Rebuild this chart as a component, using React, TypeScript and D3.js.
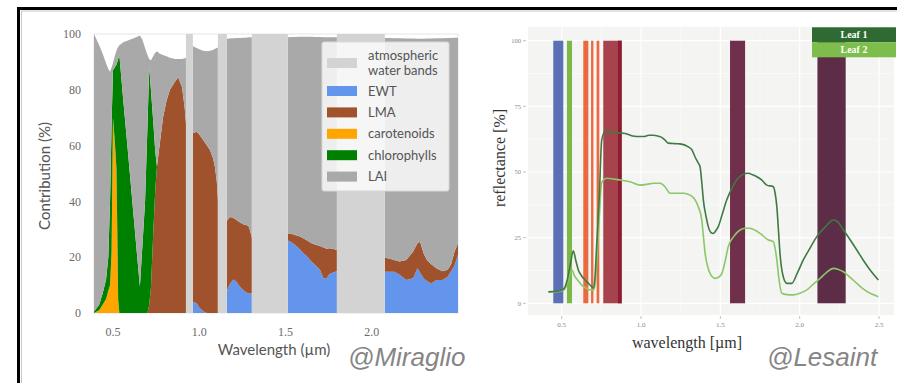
import React from 'react';
import * as d3 from 'd3';

// ---------- left panel: contribution per wavelength (Miraglio) ----------
const mirWl = [
  0.39, 0.42, 0.44, 0.46, 0.473, 0.483, 0.492, 0.5, 0.51, 0.52, 0.525, 0.53, 0.537, 0.56, 0.58, 0.6, 0.62, 0.64,
  0.656, 0.67, 0.686, 0.7, 0.71, 0.72, 0.733, 0.745, 0.755, 0.77, 0.79, 0.81, 0.83, 0.86, 0.878, 0.9, 0.915, 0.923,
  0.963, 0.985, 1.0, 1.023, 1.045, 1.062, 1.08, 1.091, 1.102, 1.108,
  1.16, 1.175, 1.19, 1.2, 1.216, 1.235, 1.255, 1.27, 1.285, 1.295, 1.305,
  1.514, 1.53, 1.555, 1.58, 1.603, 1.63, 1.651, 1.675, 1.7, 1.72, 1.738, 1.755, 1.775, 1.798,
  2.076, 2.1, 2.13, 2.16, 2.2, 2.24, 2.265, 2.28, 2.3, 2.32, 2.345, 2.375, 2.41, 2.44, 2.46, 2.48, 2.5,
];
const mirEwt = [
  0, 0, 0, 0, 0, 0, 0, 0, 0, 0, 0, 0, 0, 0, 0, 0, 0, 0,
  0, 0, 0, 0, 0, 0, 0, 0, 0, 0, 0, 0, 0, 0, 0, 0, 0, 0,
  4, 3.5, 2, 0.6, 0, 0, 0, 0, 0, 0,
  8, 10, 11.5, 12, 11.2, 9.5, 8.2, 7.5, 7, 7, 7,
  26, 25.5, 24.5, 23, 21.5, 20, 18.5, 17, 15.5, 12.5, 12.5, 14, 14.5, 15,
  14.8, 14.8, 14.8, 13.8, 11.8, 12.5, 16, 14.5, 12.5, 11.5, 10.6, 11.8, 11.8, 13, 15, 17, 21,
];
const mirLma = [
  0, 0, 0, 0, 0, 0, 0, 0, 0, 0, 0, 0, 0, 0, 0, 0, 0, 0,
  0, 0, 0, 0, 3, 9, 28, 44, 52.5, 60, 70, 76, 80, 83, 84.5, 81, 74, 68,
  60.4, 61.5, 62, 61.4, 60, 58.4, 55.5, 52.4, 47, 40.5,
  25, 24.3, 22.8, 22, 22.1, 23, 23.6, 24, 24.3, 22.5, 20,
  2.5, 3, 3.5, 4.5, 5.3, 5.8, 6.5, 7.5, 8.5, 11, 10.5, 9.2, 8.5, 7.5,
  5, 4.7, 4.2, 4.7, 7.2, 9.5, 9, 11, 9, 7.5, 6.9, 4.2, 3.2, 2.5, 2.5, 5, 4,
];
const mirCar = [
  0, 1, 3, 5, 8, 10, 22, 70, 62, 52, 30, 5, 0, 0, 0, 0, 0, 0,
  0, 0, 0, 0, 0, 0, 0, 0, 0, 0, 0, 0, 0, 0, 0, 0, 0, 0,
  0, 0, 0, 0, 0, 0, 0, 0, 0, 0,
  0, 0, 0, 0, 0, 0, 0, 0, 0, 0, 0,
  0, 0, 0, 0, 0, 0, 0, 0, 0, 0, 0, 0, 0, 0,
  0, 0, 0, 0, 0, 0, 0, 0, 0, 0, 0, 0, 0, 0, 0, 0, 0,
];
const mirChl = [
  0.5, 2, 4, 7, 12, 30, 46, 17, 26, 37, 60, 86, 92.5, 76, 62.5, 48.5, 34.5, 20.5,
  9.5, 23.5, 40, 67, 85, 71, 41, 14, 0, 0, 0, 0, 0, 0, 0, 0, 0, 0,
  0, 0, 0, 0, 0, 0, 0, 0, 0, 0,
  0, 0, 0, 0, 0, 0, 0, 0, 0, 0, 0,
  0, 0, 0, 0, 0, 0, 0, 0, 0, 0, 0, 0, 0, 0,
  0, 0, 0, 0, 0, 0, 0, 0, 0, 0, 0, 0, 0, 0, 0, 0, 0,
];
// upper edge of the LAI layer (sum of all contributions)
const mirTop = [
  100, 96, 93, 89.5, 87.5, 86.5, 88, 89.5, 92, 94, 94.7, 95.3, 96, 97, 97.5, 98, 98.5, 99,
  99.5, 98, 95, 92.5, 91, 90.5, 92, 93.3, 93.8, 93, 92.5, 92, 91.5, 91, 91, 91, 91.3, 91.5,
  95.6, 95, 94.5, 94, 93.8, 94, 94.3, 94.7, 95, 95.2,
  98.3, 98.4, 98.5, 98.5, 98.6, 98.6, 98.7, 98.7, 98.8, 98.8, 98.8,
  98.8, 98.9, 98.9, 99, 99, 99, 99, 98.9, 98.9, 98.8, 98.8, 98.8, 98.8, 98.8,
  98.6, 98.6, 98.5, 98.5, 98.4, 98.4, 98.3, 98.3, 98.3, 98.4, 98.4, 98.5, 98.5, 98.6, 98.6, 98.7, 98.7,
];
const waterBands: [number, number][] = [[0.923, 0.963], [1.108, 1.16], [1.305, 1.514], [1.798, 2.076]];
const mirXTicks = [0.5, 1.0, 1.5, 2.0];
const mirYTicks = [0, 20, 40, 60, 80, 100];
const mirKeys = ['ewt', 'lma', 'car', 'chl', 'lai'];
const mirColors: Record<string, string> = {
  ewt: '#6495ed', lma: '#a0522d', car: '#ffa500', chl: '#008000', lai: '#a9a9a9', water: '#d3d3d3',
};
const mirLegend = [
  { key: 'water', label: ['atmospheric', 'water bands'] },
  { key: 'ewt', label: ['EWT'] },
  { key: 'lma', label: ['LMA'] },
  { key: 'car', label: ['carotenoids'] },
  { key: 'chl', label: ['chlorophylls'] },
  { key: 'lai', label: ['LAI'] },
];

// ---------- right panel: leaf reflectance (Lesaint) ----------
const leaf1Wl = [
  0.416, 0.47, 0.51, 0.535, 0.555, 0.573, 0.59, 0.605, 0.625, 0.647, 0.67, 0.689, 0.7, 0.71, 0.72, 0.737, 0.752, 0.773,
  0.81, 0.847, 0.88, 0.91, 0.94, 0.973, 1.015, 1.05, 1.078, 1.11, 1.13, 1.15, 1.172, 1.21, 1.246, 1.298, 1.32, 1.34,
  1.36, 1.372, 1.383, 1.393, 1.41, 1.424, 1.44, 1.455, 1.47, 1.487, 1.51, 1.54, 1.57, 1.603, 1.64, 1.677, 1.7, 1.73,
  1.76, 1.793, 1.834, 1.845, 1.856, 1.866, 1.876, 1.895, 1.919, 1.95, 1.985, 2.023, 2.065, 2.108, 2.16, 2.213, 2.24,
  2.276, 2.32, 2.36, 2.4, 2.444, 2.496,
];
const leaf1 = [
  4.4, 4.6, 5.3, 8.9, 15, 20, 16, 12.7, 10.5, 8.9, 7.5, 6.3, 5.8, 10, 21.5, 40.6, 62, 65.4,
  65.3, 65, 64.8, 64.5, 63.8, 63.5, 63.5, 64, 64, 63.6, 63.2, 62.2, 61, 60.8, 60.7, 59.6, 58.5, 55.8,
  53.5, 52, 46, 39.3, 33, 29.2, 27, 26.6, 27.5, 29.2, 33.5, 39.3, 43.5, 47, 49, 49.5, 49, 48.2,
  47, 45, 44.4, 42, 36.8, 28, 19, 10.5, 7.6, 7.6, 11.5, 16.5, 21, 25.4, 29, 31.7, 31,
  27.9, 24, 20.3, 16.5, 12.7, 8.9,
];
const leaf2Wl = [
  0.416, 0.47, 0.51, 0.535, 0.555, 0.565, 0.58, 0.605, 0.625, 0.647, 0.67, 0.689, 0.7, 0.71, 0.72, 0.737, 0.752, 0.784,
  0.83, 0.868, 0.93, 0.994, 1.036, 1.08, 1.12, 1.151, 1.183, 1.225, 1.267, 1.309, 1.34, 1.361, 1.383, 1.394, 1.404,
  1.42, 1.435, 1.467, 1.49, 1.51, 1.53, 1.55, 1.585, 1.624, 1.655, 1.687, 1.72, 1.75, 1.803, 1.834, 1.845, 1.856,
  1.87, 1.887, 1.92, 1.96, 2.0, 2.045, 2.09, 2.129, 2.17, 2.213, 2.24, 2.276, 2.32, 2.36, 2.4, 2.444, 2.496,
];
const leaf2 = [
  4.2, 4.4, 5, 7.5, 11.5, 12.7, 10.5, 8.5, 7, 6, 5.3, 5, 5, 7, 14, 33, 46, 47.6,
  47.3, 47, 46.3, 45, 45.3, 45.7, 45.7, 44.4, 41.9, 41.9, 41.9, 41.2, 39.5, 36.8, 31.7, 25, 19,
  14, 11.4, 9.5, 10, 11.4, 16, 21.6, 25.5, 27.9, 28.6, 28.6, 27.8, 26.6, 24.1, 23.5, 21, 16.5,
  9, 3.8, 3.3, 3.2, 3.8, 5.1, 7.5, 9.5, 11.8, 13.3, 13, 12, 9.8, 7.6, 5.5, 3.8, 2.5,
];
// sensor bands shown as vertical bars (wavelength ranges, µm)
const bandLo = [0.447, 0.533, 0.636, 0.685, 0.72, 0.762, 0.855, 1.561, 2.112];
const bandHi = [0.51, 0.565, 0.668, 0.7, 0.737, 0.878, 0.878, 1.656, 2.29];
const bandColors = ['#5b6fb5', '#7bb84a', '#ea6940', '#ea6940', '#ea6940', '#a6434d', '#8c1c30', '#70304b', '#5d2d48'];
const lesXTicks = [0.5, 1.0, 1.5, 2.0, 2.5];
const lesYTicks = [0, 25, 50, 75, 100];
const lesLegend = ['Leaf 1', 'Leaf 2'];
const leafColors = ['#3f7a42', '#8ac867'];
const leafBoxColors = ['#2f6a33', '#7dbd4c'];

function MiraglioPanel() {
  const x = d3.scaleLinear().domain([0.39, 2.5]).range([94, 458]);
  const y = d3.scaleLinear().domain([0, 100]).range([313, 34]);

  const rows = mirWl.map((wl, i) => {
    const ewt = mirEwt[i], lma = mirLma[i], car = mirCar[i], chl = mirChl[i];
    return {
      wl, ewt, lma, car, chl,
      lai: Math.max(0, mirTop[i] - ewt - lma - car - chl),
      seg: waterBands.filter(b => b[1] <= wl + 1e-9).length,
    };
  });
  const series = d3.stack<any>().keys(mirKeys)(rows);
  const area = d3.area<any>()
    .x(d => x(d.data.wl))
    .y0(d => y(d[0]))
    .y1(d => y(d[1]));
  const segs = d3.range(waterBands.length + 1);

  const lx = 322, ly = 42, lw = 127, lh = 149;

  return (
    <g>
      <rect x={x.range()[0]} y={y(100)} width={x.range()[1] - x.range()[0]} height={y(0) - y(100)}
        fill="#fff" stroke="#e6e6e6" strokeWidth={1} />
      {series.map(s => (
        <g key={s.key}>
          {segs.map(k => {
            const pts = s.filter((p: any) => p.data.seg === k);
            return <path key={k} d={area(pts) || ''} fill={mirColors[s.key]} />;
          })}
        </g>
      ))}
      {waterBands.map((b, i) => (
        <rect key={i} x={x(b[0])} y={y(100)} width={x(b[1]) - x(b[0])} height={y(0) - y(100)}
          fill={mirColors.water} />
      ))}
      {mirYTicks.map(t => (
        <text key={t} x={81} y={y(t)} dy="0.35em" textAnchor="end" fontFamily="Liberation Serif"
          fontSize={12} fill="#6a6a6a">{t}</text>
      ))}
      {mirXTicks.map(t => (
        <text key={t} x={x(t)} y={332} dy="0.35em" textAnchor="middle" fontFamily="Liberation Serif"
          fontSize={12} fill="#6a6a6a">{t.toFixed(1)}</text>
      ))}
      <text transform={`translate(50,176) rotate(-90)`} textAnchor="middle" fontFamily="Lato"
        fontSize={15} fill="#555">Contribution (%)</text>
      <text x={274} y={355} textAnchor="middle" fontFamily="Lato" fontSize={15} fill="#555">
        Wavelength (µm)
      </text>
      <rect x={lx} y={ly} width={lw} height={lh} rx={2} fill="#fff" fillOpacity={0.8} stroke="#d8d8d8" />
      {mirLegend.map((d, i) => {
        const cy = i === 0 ? 63 : 91 + (i - 1) * 21.4;
        return (
          <g key={d.key}>
            <rect x={327} y={cy - 5} width={30} height={10} fill={mirColors[d.key]} />
            {d.label.map((l, j) => (
              <text key={j} x={368} y={cy + (j - (d.label.length - 1) / 2) * 15} dy="0.35em"
                fontFamily="Lato" fontSize={13} fill="#555">{l}</text>
            ))}
          </g>
        );
      })}
      <text x={348} y={366} fontFamily="Liberation Sans" fontStyle="italic" fontSize={26} fill="#858585">
        @Miraglio
      </text>
    </g>
  );
}

function LesaintPanel() {
  const x = d3.scaleLinear().domain([0.5, 2.5]).range([561.7, 879]);
  const y = d3.scaleLinear().domain([0, 100]).range([303.3, 40.7]);
  const px0 = 528, px1 = 894, py0 = 26.7, py1 = 315;

  const line = d3.line<[number, number]>()
    .x(d => x(d[0]))
    .y(d => y(d[1]))
    .curve(d3.curveMonotoneX);
  const leafPts = [
    leaf1Wl.map((w, i) => [w, leaf1[i]] as [number, number]),
    leaf2Wl.map((w, i) => [w, leaf2[i]] as [number, number]),
  ];

  return (
    <g>
      <rect x={px0} y={py0} width={px1 - px0} height={py1 - py0} fill="#f4f4f2" />
      {[12.5, 37.5, 62.5, 87.5].map(t => (
        <line key={t} x1={px0} x2={px1} y1={y(t)} y2={y(t)} stroke="#fff" strokeWidth={0.5} />
      ))}
      {[0.75, 1.25, 1.75, 2.25].map(t => (
        <line key={t} x1={x(t)} x2={x(t)} y1={py0} y2={py1} stroke="#fff" strokeWidth={0.5} />
      ))}
      {lesYTicks.map(t => (
        <line key={t} x1={px0} x2={px1} y1={y(t)} y2={y(t)} stroke="#fff" strokeWidth={1.2} />
      ))}
      {lesXTicks.map(t => (
        <line key={t} x1={x(t)} x2={x(t)} y1={py0} y2={py1} stroke="#fff" strokeWidth={1.2} />
      ))}
      {bandLo.map((lo, i) => (
        <rect key={i} x={x(lo)} y={y(100)} width={x(bandHi[i]) - x(lo)} height={y(0) - y(100)}
          fill={bandColors[i]} />
      ))}
      {[1, 0].map(i => (
        <path key={i} d={line(leafPts[i]) || ''} fill="none" stroke={leafColors[i]} strokeWidth={1.6} />
      ))}
      {lesYTicks.map(t => (
        <g key={t}>
          <line x1={px0 - 5} x2={px0 - 2} y1={y(t)} y2={y(t)} stroke="#999" strokeWidth={0.6} />
          <text x={px0 - 7} y={y(t)} dy="0.35em" textAnchor="end" fontFamily="Liberation Serif"
            fontSize={6.5} fill="#888">{t}</text>
        </g>
      ))}
      {lesXTicks.map(t => (
        <g key={t}>
          <line x1={x(t)} x2={x(t)} y1={py1 + 1} y2={py1 + 4} stroke="#999" strokeWidth={0.6} />
          <text x={x(t)} y={325} dy="0.35em" textAnchor="middle" fontFamily="Liberation Serif"
            fontSize={7} fill="#888">{t.toFixed(1)}</text>
        </g>
      ))}
      <text transform={`translate(505,158) rotate(-90)`} textAnchor="middle" fontFamily="Liberation Serif"
        fontSize={16} fill="#333">reflectance [%]</text>
      <text x={687} y={348} textAnchor="middle" fontFamily="Liberation Serif" fontSize={16} fill="#333">
        wavelength [µm]
      </text>
      {lesLegend.map((l, i) => (
        <g key={l}>
          <rect x={812} y={27.3 + i * 15} width={84} height={15} fill={leafBoxColors[i]} />
          <text x={854} y={27.3 + i * 15 + 7.5} dy="0.35em" textAnchor="middle" fontFamily="Liberation Serif"
            fontWeight="bold" fontSize={10} fill="#fff">{l}</text>
        </g>
      ))}
      <text x={767} y={366} fontFamily="Liberation Sans" fontStyle="italic" fontSize={26} fill="#858585">
        @Lesaint
      </text>
    </g>
  );
}

export default function App() {
  return (
    <svg width={897} height={383} style={{ position: 'absolute', left: 0, top: 0, background: '#fff' }}>
      <rect x={0} y={0} width={897} height={383} fill="#fff" />
      <MiraglioPanel />
      <LesaintPanel />
      {/* picture frame */}
      <line x1={17} x2={897} y1={8.5} y2={8.5} stroke="#000" strokeWidth={3} />
      <line x1={18.5} x2={18.5} y1={7} y2={383} stroke="#000" strokeWidth={3} />
      <line x1={21} x2={897} y1={11} y2={11} stroke="#c8c8c8" strokeWidth={1} />
      <line x1={21.5} x2={21.5} y1={11} y2={383} stroke="#c8c8c8" strokeWidth={1} />
    </svg>
  );
}
